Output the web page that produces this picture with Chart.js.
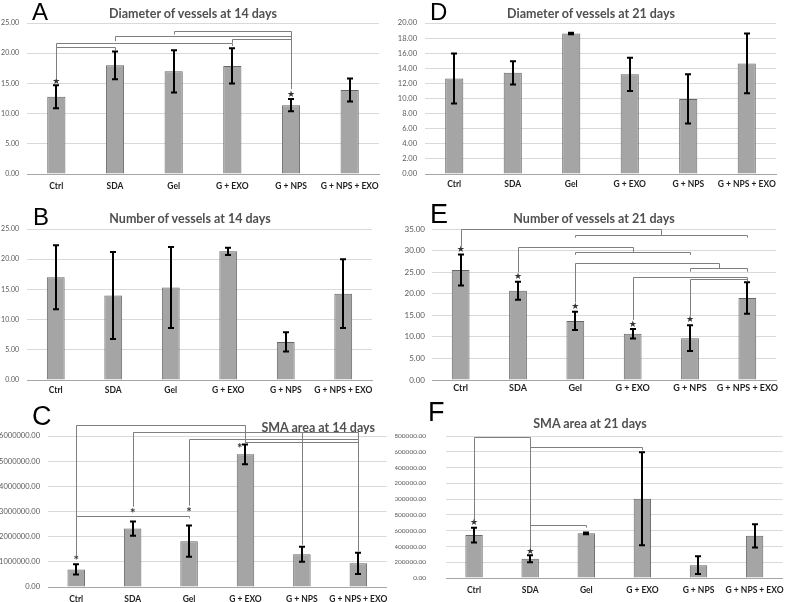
<!DOCTYPE html>
<html>
<head>
<meta charset="utf-8">
<script src="https://cdn.jsdelivr.net/npm/chart.js@4.4.1/dist/chart.umd.min.js"></script>
<style>
  body { margin: 0; background: #fff; }
  #wrap { position: relative; width: 791px; height: 602px; overflow: hidden; }
  canvas { position: absolute; }
  .ttl { position: absolute; font-family: Lato, sans-serif; font-weight: bold; font-size: 12.5px; color: #505050; white-space: nowrap; transform: translate(-50%, -50%); }
  .lt { position: absolute; font-family: 'Liberation Sans', Arial, sans-serif; color: #000; line-height: 1; }
</style>
</head>
<body>
<div id="wrap">
  <canvas id="cA" width="395" height="195" style="left:0;top:0"></canvas>
  <canvas id="cB" width="395" height="205" style="left:0;top:195px"></canvas>
  <canvas id="cC" width="395" height="202" style="left:0;top:400px"></canvas>
  <canvas id="cD" width="396" height="195" style="left:395px;top:0"></canvas>
  <canvas id="cE" width="396" height="205" style="left:395px;top:195px"></canvas>
  <canvas id="cF" width="396" height="202" style="left:395px;top:400px"></canvas>

  <div class="lt" style="left:32px;top:0;font-size:24px">A</div>
  <div class="lt" style="left:33px;top:205px;font-size:24px">B</div>
  <div class="lt" style="left:32px;top:403px;font-size:27px">C</div>
  <div class="lt" style="left:430px;top:0;font-size:24px">D</div>
  <div class="lt" style="left:430px;top:201px;font-size:27px">E</div>
  <div class="lt" style="left:428px;top:399px;font-size:27px">F</div>

  <div class="ttl" style="left:193px;top:13px">Diameter of vessels at 14 days</div>
  <div class="ttl" style="left:190px;top:218px">Number of vessels at 14 days</div>
  <div class="ttl" style="left:375px;top:427px;transform:translate(-100%,-50%)">SMA area at 14 days</div>
  <div class="ttl" style="left:591px;top:13px">Diameter of vessels at 21 days</div>
  <div class="ttl" style="left:594px;top:218px">Number of vessels at 21 days</div>
  <div class="ttl" style="left:590px;top:423px">SMA area at 21 days</div>
</div>
<script>
var groups = ['Ctrl', 'SDA', 'Gel', 'G + EXO', 'G + NPS', 'G + NPS + EXO'];

// A - diameter 14 d
var diam14 = [12.8, 18.0, 17.0, 17.9, 11.4, 13.9];
var diam14Err = [1.9, 2.3, 3.5, 2.9, 1.0, 1.9];
// [from, to, level, from leg end, to leg end]
var diam14Sig = [
  [2, 4, 23.7, 23.1, 14.1],
  [1, 4, 22.9, 22.0, 14.1],
  [3, 4, 22.3, 21.7, 14.1],
  [0, 3, 21.7, 15.9, 21.2],
  [0, 1, 21.1, 15.9, 20.5]
];
var diam14Stars = [[0, 15.3], [4, 13.2]];

// B - number 14 d
var num14 = [17.0, 14.0, 15.3, 21.3, 6.3, 14.3];
var num14Err = [5.3, 7.2, 6.7, 0.6, 1.6, 5.7];

// C - SMA 14 d
var sma14 = [700000, 2320000, 1820000, 5270000, 1300000, 940000];
var sma14Err = [200000, 280000, 620000, 390000, 300000, 420000];
var sma14Sig = [
  [0, 3, 6430000, 1270000, 5700000],
  [1, 5, 6140000, 3200000, 1420000],
  [1, 4, 6140000, 3200000, 1680000],
  [2, 5, 5870000, 3230000, 1420000],
  [3, 5, 5770000, 5700000, 5770000],
  [0, 2, 2820000, 2820000, 2730000]
];
var sma14Stars = [[0, 1140000], [1, 3030000], [2, 3060000], [2.9, 5610000]];

// D - diameter 21 d
var diam21 = [12.65, 13.4, 18.6, 13.2, 9.95, 14.65];
var diam21Err = [3.3, 1.55, 0.1, 2.2, 3.25, 3.95];

// E - number 21 d
var num21 = [25.5, 20.7, 13.7, 10.7, 9.7, 19.0];
var num21Err = [3.6, 2.1, 2.1, 1.1, 3.0, 3.65];
var num21Sig = [
  [0, 3.5, 35.0, 30.9, 33.6],
  [2, 5, 33.6, 33.0, 33.0],
  [1, 3, 30.9, 25.0, 29.7],
  [2, 4, 29.7, 29.0, 29.0],
  [2, 4.5, 27.2, 18.0, 25.9],
  [4, 5, 25.9, 25.1, 25.1],
  [3, 5, 23.9, 13.9, 22.9],
  [4, 5, 23.3, 14.8, 23.0]
];
var num21Stars = [[0, 30.1], [1, 24.0], [2, 17.0], [3, 12.9], [4, 13.9]];

// F - SMA 21 d
var sma21 = [545000, 245000, 567000, 1005000, 164000, 535000];
var sma21Err = [93000, 45000, 10000, 590000, 113000, 148000];
var sma21Sig = [
  [0, 1, 1787000, 735000, 380000],
  [1, 3, 1660000, 380000, 1620000],
  [1, 2, 674000, 380000, 640000]
];
var sma21Stars = [[0, 700000], [1, 340000]];

Chart.defaults.font.family = 'Lato, sans-serif';

var sigPlugin = {
  id: 'sig',
  afterDatasetsDraw: function(chart, args, opts) {
    var ctx = chart.ctx, xs = chart.scales.x, ys = chart.scales.y;
    var vals = chart.data.datasets[0].data;
    ctx.save();
    ctx.strokeStyle = '#000';
    ctx.lineWidth = 2;
    opts.err.forEach(function(e, i) {
      var x = Math.round(xs.getPixelForValue(i));
      var t = ys.getPixelForValue(vals[i] + e), b = ys.getPixelForValue(vals[i] - e);
      ctx.beginPath();
      ctx.moveTo(x, t); ctx.lineTo(x, b);
      ctx.moveTo(x - 3, t); ctx.lineTo(x + 3, t);
      ctx.moveTo(x - 3, b); ctx.lineTo(x + 3, b);
      ctx.stroke();
    });
    ctx.strokeStyle = '#7f7f7f';
    ctx.lineWidth = 1;
    (opts.brackets || []).forEach(function(s) {
      var x1 = Math.round(xs.getPixelForValue(s[0])) + 0.5;
      var x2 = Math.round(xs.getPixelForValue(s[1])) + 0.5;
      var y = Math.round(ys.getPixelForValue(s[2])) + 0.5;
      ctx.beginPath();
      ctx.moveTo(x1, ys.getPixelForValue(s[3]));
      ctx.lineTo(x1, y);
      ctx.lineTo(x2, y);
      ctx.lineTo(x2, ys.getPixelForValue(s[4]));
      ctx.stroke();
    });
    ctx.fillStyle = '#333';
    ctx.font = opts.markFont || '9px "DejaVu Sans"';
    ctx.textAlign = 'center';
    ctx.textBaseline = 'middle';
    (opts.stars || []).forEach(function(s) {
      ctx.fillText(opts.mark || '\u2605', xs.getPixelForValue(s[0]), ys.getPixelForValue(s[1]) + (opts.markDy || 0));
    });
    ctx.restore();
  }
};

function makeChart(id, vals, err, p) {
  return new Chart(document.getElementById(id), {
    type: 'bar',
    data: {
      labels: groups,
      datasets: [{
        data: vals,
        backgroundColor: '#a5a5a5',
        borderColor: '#666',
        borderWidth: 1,
        barPercentage: 0.31,
        categoryPercentage: 1
      }]
    },
    options: {
      responsive: false,
      animation: false,
      layout: { padding: { top: p.top, right: p.right, left: 0, bottom: 0 } },
      plugins: {
        legend: { display: false },
        tooltip: { enabled: false },
        sig: { err: err, brackets: p.sig, stars: p.stars, mark: p.mark, markFont: p.markFont, markDy: p.markDy }
      },
      scales: {
        x: {
          grid: { display: false, drawTicks: false },
          border: { color: '#a6a6a6' },
          ticks: { color: '#1e1e1e', font: { size: p.catSize, weight: 'bold' }, padding: p.xPad, maxRotation: 0, autoSkip: false },
          afterFit: function(s) { s.height = p.xH; }
        },
        y: {
          min: 0,
          max: p.max,
          grid: { color: '#d9d9d9', drawTicks: false },
          border: { display: false },
          ticks: {
            stepSize: p.step, color: '#595959', font: { size: p.tickSize }, padding: p.yPad,
            callback: function(v) { return v.toFixed(2); }
          },
          afterFit: function(s) { s.width = p.yW; }
        }
      }
    },
    plugins: [sigPlugin]
  });
}

makeChart('cA', diam14, diam14Err, { top: 23, right: 16, yW: 27, xH: 21, max: 25, step: 5, tickSize: 7, catSize: 8.5, xPad: 7, yPad: 8, sig: diam14Sig, stars: diam14Stars, markFont: '9px "DejaVu Sans"' });
makeChart('cB', num14, num14Err, { top: 34, right: 23, yW: 27, xH: 20, max: 25, step: 5, tickSize: 7, catSize: 8.5, xPad: 5, yPad: 8 });
makeChart('cC', sma14, sma14Err, { top: 36, right: 8, yW: 48, xH: 15, max: 6000000, step: 1000000, tickSize: 7.5, catSize: 8.5, xPad: 7, yPad: 8, sig: sma14Sig, stars: sma14Stars, mark: '*', markFont: 'bold 13px Lato', markDy: 3 });
makeChart('cD', diam21, diam21Err, { top: 23, right: 15, yW: 30, xH: 21, max: 20, step: 2, tickSize: 7.5, catSize: 8.5, xPad: 5.5, yPad: 8 });
makeChart('cE', num21, num21Err, { top: 34, right: 15, yW: 37, xH: 20, max: 35, step: 5, tickSize: 8, catSize: 9, xPad: 3, yPad: 7, sig: num21Sig, stars: num21Stars, markFont: '9px "DejaVu Sans"' });
makeChart('cF', sma21, sma21Err, { top: 36, right: 5, yW: 51, xH: 15, max: 1800000, step: 200000, tickSize: 6.5, catSize: 8.5, xPad: 7, yPad: 20, sig: sma21Sig, stars: sma21Stars, markFont: '9px "DejaVu Sans"' });
</script>
</body>
</html>
